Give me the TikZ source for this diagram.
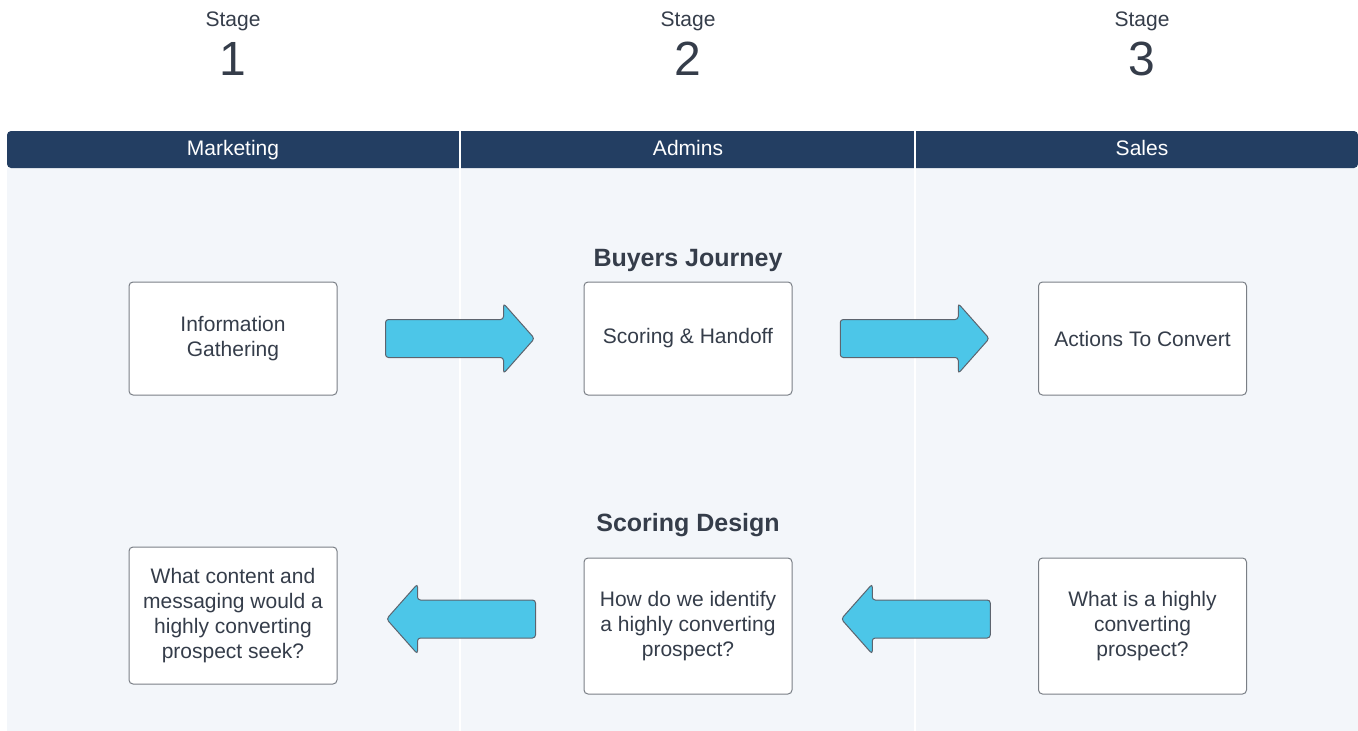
\documentclass[tikz,border=0pt]{standalone}
\usepackage{fontspec}
\setmainfont{Liberation Sans}
\usetikzlibrary{calc}
\definecolor{navy}{HTML}{233E62}
\definecolor{lane}{HTML}{F3F6FA}
\definecolor{ink}{HTML}{353D4A}
\definecolor{sky}{HTML}{4CC6E8}
\definecolor{edge}{HTML}{7A7F86}
\begin{document}
\begin{tikzpicture}[x=1pt,y=-1pt,
  stagebox/.style={draw=edge,line width=1pt,fill=white,rounded corners=4pt,
    minimum width=208pt,align=center,text=ink,font=\fontsize{21}{25}\selectfont},
  lanehead/.style={text=white,anchor=base,font=\fontsize{21}{24}\selectfont},
  stagelbl/.style={text=ink,anchor=base,font=\fontsize{21}{24}\selectfont},
  stagenum/.style={text=ink,anchor=base,font=\fontsize{48}{52}\selectfont},
  rowtitle/.style={text=ink,anchor=base,font=\bfseries\fontsize{25}{28}\selectfont},
  flowarrow/.style={fill=sky,draw=ink!80,line width=1pt,rounded corners=3pt}]
\useasboundingbox (0,0) rectangle (1358,731);
% swim lanes
\fill[lane] (7,168) rectangle (1358,731);
\fill[navy,rounded corners=4pt] (7,168) -- (7,131) -- (1358,131) -- (1358,168) -- cycle;
\draw[white,line width=1.5pt] (460,131) -- (460,731) (915,131) -- (915,731);
% stage labels and lane headers
\foreach \x/\n/\h in {233/1/Marketing,688/2/Admins,1142/3/Sales}{
  \node[stagelbl] (st\n) at (\x,26.5) {Stage};
  \node[stagenum] (num\n) at (\x,75) {\n};
  \node[lanehead] (head\n) at (\x,155.5) {\h};
}
% row titles
\node[rowtitle] (buyers) at (688,266) {Buyers Journey};
\node[rowtitle] (design) at (688,531) {Scoring Design};
% boxes, top row
\node[stagebox,minimum height=113pt] (info) at (233,338.5) {Information\\Gathering};
\node[stagebox,minimum height=113pt] (score) at (688,338.5) {Scoring \& Handoff};
\node[stagebox,minimum height=113pt] (act) at (1142.5,338.5) {Actions To Convert};
% boxes, bottom row
\node[stagebox,minimum height=137pt] (content) at (233,615.5) {What content and\\messaging would a\\highly converting\\prospect seek?};
\node[stagebox,minimum height=136pt] (identify) at (688,626) {How do we identify\\a highly converting\\prospect?};
\node[stagebox,minimum height=136pt] (what) at (1142.5,626) {What is a highly\\converting\\prospect?};
% block arrows pointing right
\foreach \a/\b in {info/score,score/act}{
  \path ($(\a.east)!0.5!(\b.west)$) coordinate (m\a);
  \draw[flowarrow] ($(m\a)+(-75,-19)$) -- ($(m\a)+(43,-19)$) -- ($(m\a)+(43,-35)$)
    -- ($(m\a)+(74,0)$) -- ($(m\a)+(43,35)$) -- ($(m\a)+(43,19)$)
    -- ($(m\a)+(-75,19)$) -- cycle;
}
% block arrows pointing left, set a little above the box centres
\foreach \a/\b in {what/identify,identify/content}{
  \path ($(\b.east)!0.5!(\a.west)$) coordinate (m\a);
  \path ($(m\a |- \a.west)+(0,-7)$) coordinate (n\a);
  \draw[flowarrow] ($(n\a)+(75,-19)$) -- ($(n\a)+(-43,-19)$) -- ($(n\a)+(-43,-35)$)
    -- ($(n\a)+(-74,0)$) -- ($(n\a)+(-43,35)$) -- ($(n\a)+(-43,19)$)
    -- ($(n\a)+(75,19)$) -- cycle;
}
\end{tikzpicture}
\end{document}
